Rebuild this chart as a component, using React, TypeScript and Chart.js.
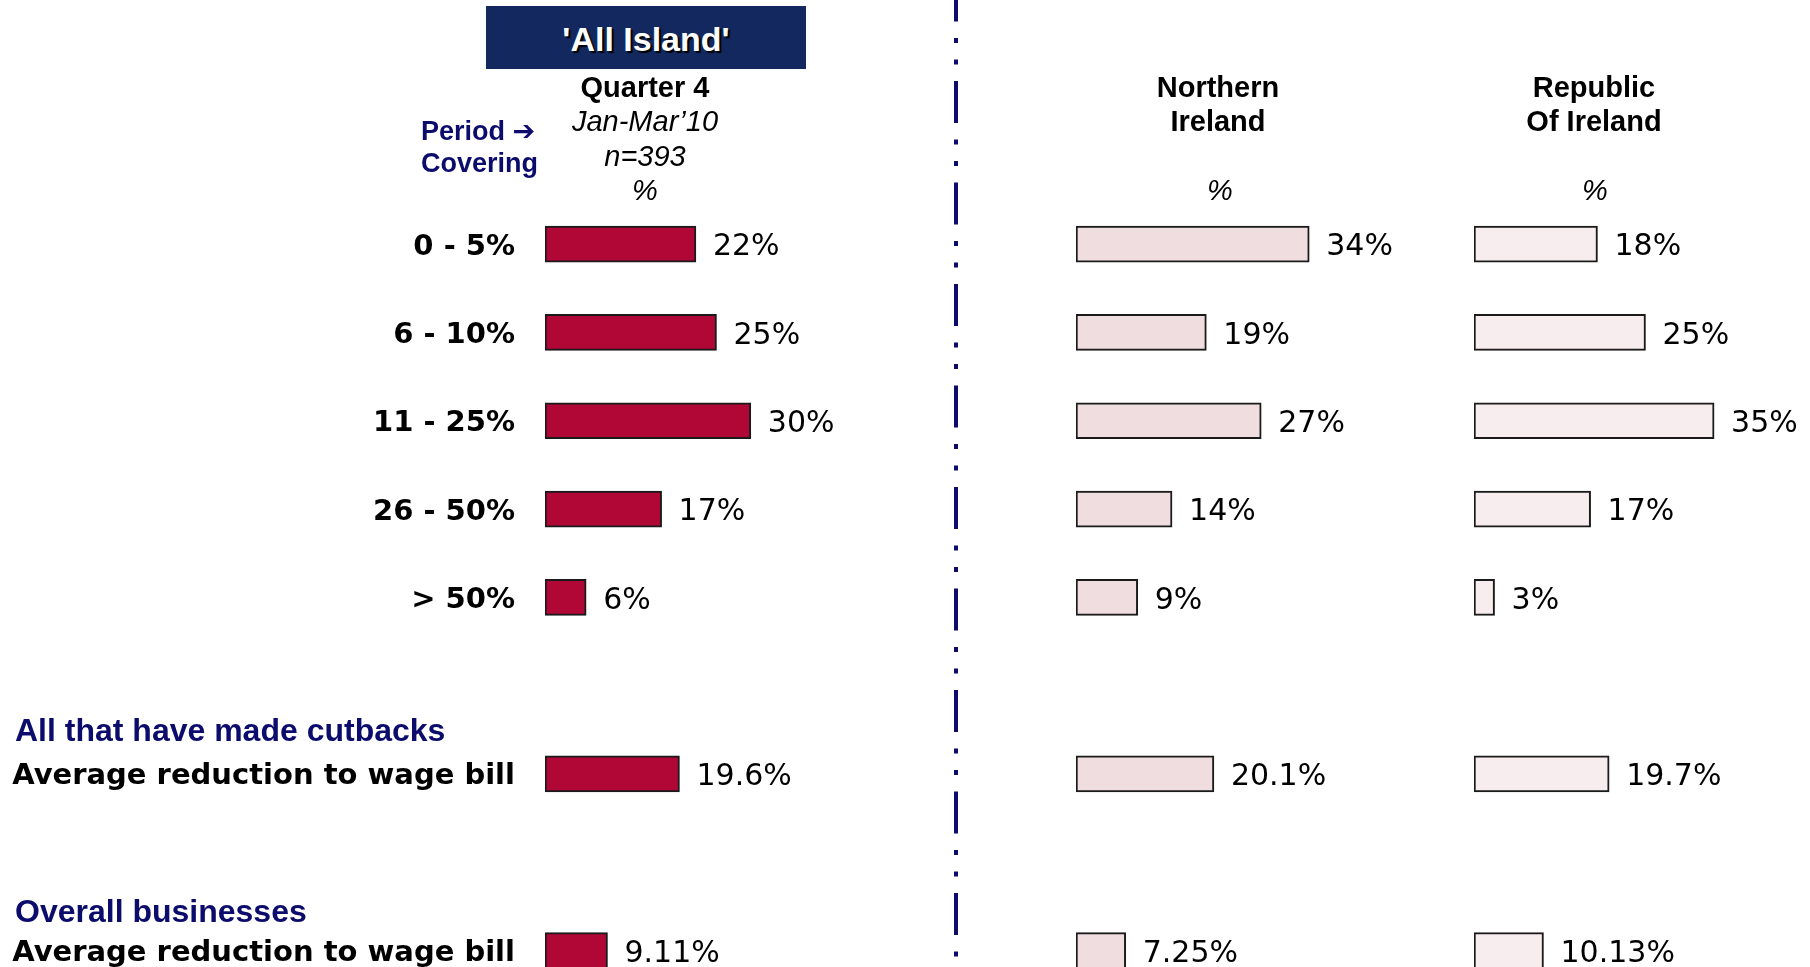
import React, { useEffect, useRef } from "react";
import { Chart, registerables } from "chart.js";

Chart.register(...registerables);

// ---------- data ----------
const categories = [
  "0 - 5%",
  "6 - 10%",
  "11 - 25%",
  "26 - 50%",
  "> 50%",
  "",
  "Average reduction to wage bill",
  "",
  "Average reduction to wage bill",
];
const allIsland = [22, 25, 30, 17, 6, null, 19.6, null, 9.11];
const northernIreland = [34, 19, 27, 14, 9, null, 20.1, null, 7.25];
const republicOfIreland = [18, 25, 35, 17, 3, null, 19.7, null, 10.13];

const mainTitle = "'All Island'";
const periodLines = ["Quarter 4", "Jan-Mar\u201910", "n=393", "%"];
const niHeader = ["Northern", "Ireland"];
const roiHeader = ["Republic", "Of Ireland"];
const sectionHeadings = ["All that have made cutbacks", "Overall businesses"];

// ---------- layout ----------
const TOP = 200;
const ROW = 88.3;
const BOTTOM_PAD = 60;
const H = Math.ceil(TOP + 9 * ROW + BOTTOM_PAD);
const PLOT_W = 343;
const XMAX = 50;
const LABEL_W = 545;
const NAVY = "#0c0c6c";

const valueLabels = {
  id: "valueLabels",
  afterDatasetsDraw(chart: any) {
    const ctx = chart.ctx;
    const meta = chart.getDatasetMeta(0);
    const data = chart.data.datasets[0].data;
    ctx.save();
    ctx.font = "30px 'DejaVu Sans'";
    ctx.fillStyle = "#000";
    ctx.textAlign = "left";
    ctx.textBaseline = "middle";
    meta.data.forEach((bar: any, i: number) => {
      const v = data[i];
      if (v == null) return;
      ctx.fillText(`${v}%`, bar.x + 17, bar.y + 3.5);
    });
    ctx.restore();
  },
};

function BarColumn(props: {
  left: number;
  width: number;
  data: (number | null)[];
  fill: string;
  showLabels: boolean;
}) {
  const ref = useRef<HTMLCanvasElement>(null);
  useEffect(() => {
    const labelW = props.showLabels ? LABEL_W : 0;
    const chart = new Chart(ref.current as HTMLCanvasElement, {
      type: "bar",
      data: {
        labels: categories,
        datasets: [
          {
            data: props.data as any,
            backgroundColor: props.fill,
            borderColor: "#1a1a1a",
            borderWidth: 2,
            borderSkipped: false,
            barThickness: 36,
          } as any,
        ],
      },
      options: {
        indexAxis: "y",
        responsive: false,
        animation: false,
        events: [],
        layout: {
          padding: {
            top: TOP,
            bottom: H - TOP - 9 * ROW,
            left: 0,
            right: props.width - labelW - PLOT_W,
          },
        },
        plugins: {
          legend: { display: false },
          tooltip: { enabled: false },
          title: { display: false },
        },
        scales: {
          x: { type: "linear", min: 0, max: XMAX, display: false },
          y: {
            type: "category",
            display: props.showLabels,
            grid: { display: false, drawTicks: false },
            border: { display: false },
            ticks: {
              autoSkip: false,
              padding: 30,
              labelOffset: 3,
              color: "#000",
              font: { family: "'DejaVu Sans'", size: 29, weight: "bold" },
            },
            afterFit: (s: any) => {
              s.width = labelW;
            },
          } as any,
        },
      },
      plugins: [valueLabels],
    });
    return () => chart.destroy();
  }, []);
  return (
    <canvas
      ref={ref}
      width={props.width}
      height={H}
      style={{ position: "absolute", left: props.left, top: 0, width: props.width, height: H }}
    />
  );
}

function Txt(props: {
  x: number;
  y: number;
  align?: "left" | "center" | "right";
  style?: React.CSSProperties;
  children: React.ReactNode;
}) {
  const a = props.align || "center";
  const tx = a === "left" ? "0" : a === "center" ? "-50%" : "-100%";
  return (
    <div
      style={{
        position: "absolute",
        left: props.x,
        top: props.y,
        transform: `translate(${tx}, -50%)`,
        whiteSpace: "nowrap",
        lineHeight: 1,
        fontFamily: "'Liberation Sans', Arial, sans-serif",
        ...props.style,
      }}
    >
      {props.children}
    </div>
  );
}

export default function App() {
  const bold29: React.CSSProperties = { fontSize: 29, fontWeight: "bold", color: "#000" };
  const ital29: React.CSSProperties = { fontSize: 29, fontStyle: "italic", color: "#000" };
  const navy27: React.CSSProperties = { fontSize: 27, fontWeight: "bold", color: NAVY };
  const navy32: React.CSSProperties = { fontSize: 32, fontWeight: "bold", color: NAVY };
  return (
    <div
      style={{
        position: "fixed",
        left: 0,
        top: 0,
        width: 1810,
        height: 967,
        overflow: "hidden",
        background: "#fff",
      }}
    >
      <BarColumn left={0} width={LABEL_W + PLOT_W} data={allIsland} fill="#b00737" showLabels={true} />
      <BarColumn left={1076} width={PLOT_W} data={northernIreland} fill="#efdde0" showLabels={false} />
      <BarColumn left={1474} width={PLOT_W} data={republicOfIreland} fill="#f7ecee" showLabels={false} />

      {/* divider */}
      <svg width={10} height={967} style={{ position: "absolute", left: 951, top: 0 }}>
        <line
          x1={5}
          y1={0}
          x2={5}
          y2={967}
          stroke={NAVY}
          strokeWidth={4}
          strokeDasharray="42 16.5 5 16.5 5 16.5"
          strokeDashoffset={20.5}
        />
      </svg>

      {/* All Island title box */}
      <div
        style={{
          position: "absolute",
          left: 486,
          top: 6,
          width: 320,
          height: 63,
          background: "#13285f",
          display: "flex",
          alignItems: "center",
          justifyContent: "center",
          color: "#fff",
          fontFamily: "'Liberation Sans', Arial, sans-serif",
          fontWeight: "bold",
          fontSize: 34,
          textShadow: "2px 2px 1px #000",
          paddingTop: 4,
          boxSizing: "border-box",
        }}
      >
        {mainTitle}
      </div>

      <Txt x={645} y={87} style={bold29}>{periodLines[0]}</Txt>
      <Txt x={645} y={121} style={ital29}>{periodLines[1]}</Txt>
      <Txt x={645} y={156} style={ital29}>{periodLines[2]}</Txt>
      <Txt x={645} y={190} style={ital29}>{periodLines[3]}</Txt>

      <Txt x={421} y={131} align="left" style={navy27}>
        Period <span style={{ fontFamily: "'DejaVu Sans'" }}>{"\u2794"}</span>
      </Txt>
      <Txt x={421} y={163} align="left" style={navy27}>Covering</Txt>

      <Txt x={1218} y={87} style={bold29}>{niHeader[0]}</Txt>
      <Txt x={1218} y={121} style={bold29}>{niHeader[1]}</Txt>
      <Txt x={1220} y={190} style={ital29}>%</Txt>

      <Txt x={1594} y={87} style={bold29}>{roiHeader[0]}</Txt>
      <Txt x={1594} y={121} style={bold29}>{roiHeader[1]}</Txt>
      <Txt x={1595} y={190} style={ital29}>%</Txt>

      <Txt x={15} y={729.5} align="left" style={navy32}>{sectionHeadings[0]}</Txt>
      <Txt x={15} y={911} align="left" style={navy32}>{sectionHeadings[1]}</Txt>
    </div>
  );
}
